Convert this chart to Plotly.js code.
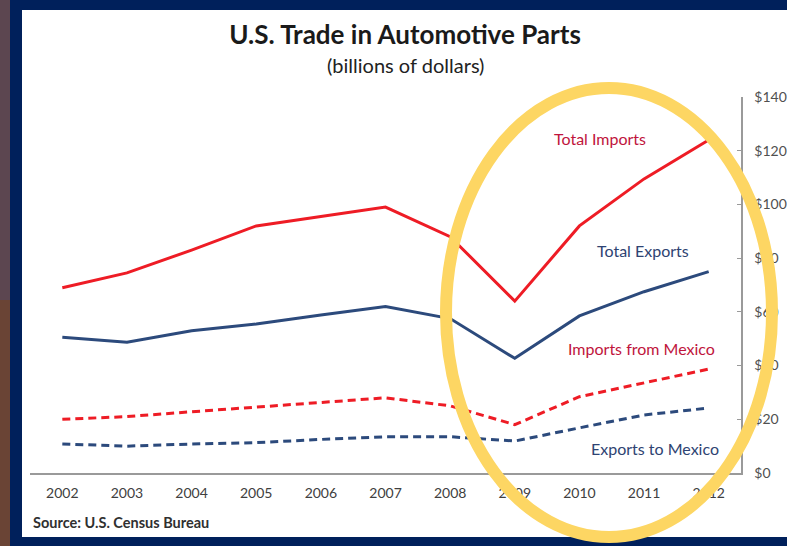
<!DOCTYPE html>
<html>
<head>
<meta charset="utf-8">
<script src="https://cdn.plot.ly/plotly-3.0.1.min.js"></script>
<style>
  html, body { margin: 0; padding: 0; background: #00205B; }
  #chart { width: 787px; height: 546px; }
</style>
</head>
<body>
<div id="chart"></div>
<script>
// ---- data (billions of dollars) ----
var years = [2002, 2003, 2004, 2005, 2006, 2007, 2008, 2009, 2010, 2011, 2012];
var totalImports  = [69, 74.5, 83, 92, 95.5, 99, 88, 64, 92, 109.5, 124];
var totalExports  = [50.5, 48.7, 53, 55.5, 58.8, 62, 57.5, 42.7, 58.5, 67.5, 75];
var importsMexico = [20, 21, 22.8, 24.6, 26.2, 28, 25, 18, 28.4, 33.5, 38.7];
var exportsMexico = [10.8, 10, 10.8, 11.3, 12.5, 13.5, 13.5, 11.9, 16.8, 21.6, 24.2];
var yTicks = [0, 20, 40, 60, 80, 100, 120, 140];
var seriesNames = ['Total Imports', 'Total Exports', 'Imports from Mexico', 'Exports to Mexico'];

// ---- layout geometry (pixels) ----
var W = 787, H = 546;
var M = {l: 30, r: 46, t: 97, b: 73};
var PW = W - M.l - M.r, PH = H - M.t - M.b;
function px(x) { return (x - M.l) / PW; }
function py(y) { return (H - M.b - y) / PH; }

var RED = '#EE1C25', BLUE = '#2C4A7C';
var FONT = 'Lato, "Open Sans", sans-serif';

var traces = [
  {x: years, y: totalImports, name: seriesNames[0], mode: 'lines', line: {color: RED, width: 3}},
  {x: years, y: totalExports, name: seriesNames[1], mode: 'lines', line: {color: BLUE, width: 3}},
  {x: years, y: importsMexico, name: seriesNames[2], mode: 'lines', line: {color: RED, width: 3, dash: '8px,5px'}},
  {x: years, y: exportsMexico, name: seriesNames[3], mode: 'lines', line: {color: BLUE, width: 3, dash: '8px,5px'}}
];

var layout = {
  width: W, height: H,
  margin: M,
  paper_bgcolor: '#00205B',
  plot_bgcolor: 'rgba(0,0,0,0)',
  showlegend: false,
  font: {family: FONT, color: '#404040'},
  title: {
    text: '<b>U.S. Trade in Automotive Parts</b>',
    font: {family: FONT, size: 26, color: '#1a1a1a'},
    xref: 'container', yref: 'container',
    x: 405 / W, y: 1 - 35 / H, xanchor: 'center', yanchor: 'middle'
  },
  xaxis: {
    range: [2001.5, 2012.5],
    tickvals: years,
    ticktext: years.map(String),
    showline: true, linecolor: '#9a9a9a', linewidth: 1.5,
    ticks: '', showgrid: false, zeroline: false,
    tickfont: {family: FONT, size: 14, color: '#404040'},
    ticklabelstandoff: 7
  },
  yaxis: {
    side: 'right',
    range: [0, 140],
    tickvals: yTicks,
    ticktext: yTicks.map(function (v) { return '$' + v; }),
    showline: true, linecolor: '#9a9a9a', linewidth: 1.5,
    ticks: 'inside', ticklen: 4, tickcolor: '#9a9a9a',
    showgrid: false, zeroline: false,
    tickfont: {family: FONT, size: 14, color: '#505050'},
    ticklabelstandoff: 9
  },
  shapes: [
    {type: 'rect', xref: 'paper', yref: 'paper', layer: 'below',
     x0: px(0), x1: px(10), y0: py(H), y1: py(0), line: {width: 0}, fillcolor: '#5c4650'},
    {type: 'rect', xref: 'paper', yref: 'paper', layer: 'below',
     x0: px(0), x1: px(10), y0: py(H), y1: py(300), line: {width: 0}, fillcolor: '#6a4435'},
    {type: 'rect', xref: 'paper', yref: 'paper', layer: 'below',
     x0: px(22), x1: px(W), y0: py(537), y1: py(10), line: {width: 0}, fillcolor: '#ffffff'},
    {type: 'circle', xref: 'paper', yref: 'paper', layer: 'above',
     x0: px(446), x1: px(772), y0: py(537), y1: py(88),
     line: {color: '#FDD663', width: 12}, fillcolor: 'rgba(0,0,0,0)'}
  ],
  annotations: [
    {text: '(billions of dollars)', xref: 'paper', yref: 'paper', x: px(405), y: py(65),
     showarrow: false, xanchor: 'center', yanchor: 'middle',
     font: {family: FONT, size: 20, color: '#222222'}},
    {text: '<b>Source: U.S. Census Bureau</b>', xref: 'paper', yref: 'paper', x: px(31), y: py(522),
     showarrow: false, xanchor: 'left', yanchor: 'middle',
     font: {family: FONT, size: 14.5, color: '#303030'}},
    {text: seriesNames[0], xref: 'paper', yref: 'paper', x: px(600), y: py(138),
     showarrow: false, xanchor: 'center', yanchor: 'middle',
     font: {family: FONT, size: 16, color: '#C0143C'}},
    {text: seriesNames[1], xref: 'paper', yref: 'paper', x: px(643), y: py(250),
     showarrow: false, xanchor: 'center', yanchor: 'middle',
     font: {family: FONT, size: 16, color: '#2E4372'}},
    {text: seriesNames[2], xref: 'paper', yref: 'paper', x: px(641), y: py(348),
     showarrow: false, xanchor: 'center', yanchor: 'middle',
     font: {family: FONT, size: 16, color: '#C0143C'}},
    {text: seriesNames[3], xref: 'paper', yref: 'paper', x: px(655), y: py(448),
     showarrow: false, xanchor: 'center', yanchor: 'middle',
     font: {family: FONT, size: 16, color: '#2E4372'}}
  ]
};

Plotly.newPlot('chart', traces, layout, {staticPlot: true, displayModeBar: false});
</script>
</body>
</html>
